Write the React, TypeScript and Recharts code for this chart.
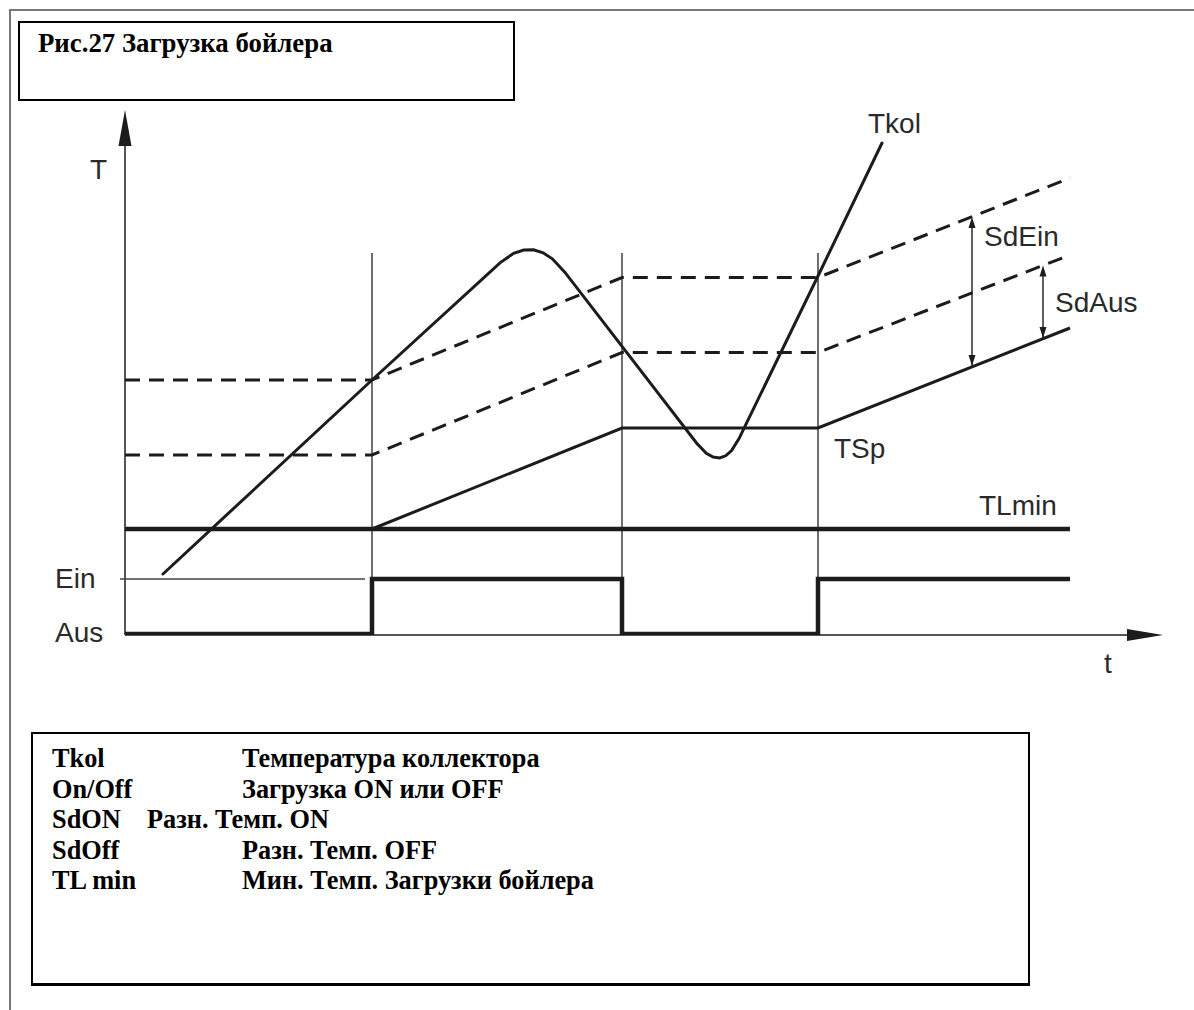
import React from 'react';
import { LineChart, Line, XAxis, YAxis, ReferenceLine, ReferenceDot } from 'recharts';

// ---- data (abstract time / temperature units) ----
const switchTimes = [24.7, 49.7, 69.3];
const lineTop = 76.4;

const tkolT = [3.8, 24.7, 37.5, 38.86, 39.87, 40.85, 41.82, 42.76, 44.0, 57.17, 58.13, 58.81, 59.46, 60.07, 60.66, 61.39, 69.3, 75.7];
const tkolV = [12.2, 51, 74.44, 76.34, 77.0, 77.04, 76.43, 75.18, 72.52, 38.36, 36.36, 35.58, 35.4, 35.84, 36.9, 39.24, 71.8, 98.4];

const tspT = [24.7, 49.7, 69.3, 94.5];
const tspV = [21.2, 41.4, 41.4, 61.4];

const sdEinT = [0, 24.7, 49.7, 69.3, 94.5];
const sdEinV = [51, 51, 71.5, 71.5, 91.4];

const sdAusT = [0, 24.7, 49.7, 69.3, 94.5];
const sdAusV = [36, 36, 56.5, 56.5, 76];

const tlMinT = [0, 94.5];
const tlMinV = [21.2, 21.2];

const pumpT = [0, 24.7, 24.7, 49.7, 49.7, 69.3, 69.3, 94.5];
const pumpV = [0.2, 0.2, 11.2, 11.2, 0.2, 0.2, 11.2, 11.2];

const einRefT = [-0.5, 24.0];
const einRefV = [11.2, 11.2];

const yTickValues = [0, 11.2, 93.2];
const yTickLabels = ['Aus', 'Ein', 'T'];
const xTickValues = [98.3];
const xTickLabels = ['t'];

const sdEinArrow = { t: 84.7, from: 53.8, to: 83.6 };
const sdAusArrow = { t: 91.8, from: 59.4, to: 73.9 };

const seriesLabels = [
  { name: 'Tkol', t: 74.3, v: 100.4 },
  { name: 'SdEin', t: 85.9, v: 77.8 },
  { name: 'SdAus', t: 93.0, v: 64.6 },
  { name: 'TSp', t: 70.9, v: 35.4 },
  { name: 'TLmin', t: 85.4, v: 24.0 },
];

const titleText = 'Рис.27 Загрузка бойлера';
const legendKeys = ['Tkol', 'On/Off', 'SdON', 'SdOff', 'TL min'];
const legendTexts = ['Температура коллектора', 'Загрузка ON или OFF', 'Разн. Темп. ON', 'Разн. Темп. OFF', 'Мин. Темп. Загрузки бойлера'];
const legendIndent = [242, 242, 147, 242, 242];

const zip = (ts: number[], vs: number[]) => ts.map((t, i) => ({ t, v: vs[i] }));

const INK = '#1c1c1c';
const SANS = '"Liberation Sans", Arial, sans-serif';
const SERIF = '"Liberation Serif", "Times New Roman", serif';

const arrowShape = (headLen: number, halfW: number, both: boolean, sw: number) => (p: any) => {
  const { x1, y1, x2, y2 } = p;
  const dx = x2 - x1, dy = y2 - y1;
  const len = Math.hypot(dx, dy) || 1;
  const ux = dx / len, uy = dy / len;
  const head = (tx: number, ty: number, ax: number, ay: number) => {
    const bx = tx - ax * headLen, by = ty - ay * headLen;
    return `${tx},${ty} ${bx - ay * halfW},${by + ax * halfW} ${bx + ay * halfW},${by - ax * halfW}`;
  };
  return (
    <g>
      <line x1={x1} y1={y1} x2={x2 - ux * headLen * 0.5} y2={y2 - uy * headLen * 0.5} stroke={INK} strokeWidth={sw} />
      <polygon points={head(x2, y2, ux, uy)} fill={INK} />
      {both && <polygon points={head(x1, y1, -ux, -uy)} fill={INK} />}
    </g>
  );
};

const textShape = (name: string) => (p: any) => (
  <text x={p.cx} y={p.cy} fill="#2a2a2a" fontFamily={SANS} fontSize={28} textAnchor="start">
    {name}
  </text>
);

const YTick = (props: any) => {
  const { y, payload } = props;
  const i = yTickValues.indexOf(payload.value);
  const label = yTickLabels[i] ?? '';
  const x = label === 'T' ? 90 : 55;
  const dy = label === 'T' ? 10 : label === 'Ein' ? 9 : 7;
  return (
    <text x={x} y={y + dy} fill="#2a2a2a" fontFamily={SANS} fontSize={28} textAnchor="start">
      {label}
    </text>
  );
};

const XTick = (props: any) => {
  const { x, y, payload } = props;
  const i = xTickValues.indexOf(payload.value);
  return (
    <text x={x} y={y + 36} fill="#2a2a2a" fontFamily={SANS} fontSize={28} textAnchor="middle">
      {xTickLabels[i] ?? ''}
    </text>
  );
};

export default function App() {
  return (
    <div style={{ position: 'absolute', left: 0, top: 0, width: 1194, height: 1010, background: '#fff', overflow: 'hidden' }}>
      <div style={{ position: 'absolute', left: 9, top: 9, right: -4, bottom: -4, borderLeft: '2px solid #777', borderTop: '2px solid #777' }} />
      <div style={{ position: 'absolute', left: 0, top: 0 }}>
        <LineChart width={1194} height={1010} margin={{ top: 110, right: 29, bottom: 335, left: 20 }}>
          <XAxis
            type="number"
            dataKey="t"
            domain={[-2, 104]}
            allowDataOverflow
            ticks={xTickValues}
            tick={<XTick />}
            axisLine={false}
            tickLine={false}
            tickSize={0}
            height={40}
          />
          <YAxis
            type="number"
            dataKey="v"
            domain={[0, 105]}
            allowDataOverflow
            ticks={yTickValues}
            tick={<YTick />}
            axisLine={false}
            tickLine={false}
            width={85}
            interval={0}
          />
          {switchTimes.map((t) => (
            <ReferenceLine key={'sw' + t} segment={[{ x: t, y: 0 }, { x: t, y: lineTop }]} stroke="#333" strokeWidth={1.4} ifOverflow="visible" />
          ))}
          <ReferenceLine segment={[{ x: 0, y: 0 }, { x: 0, y: 105 }]} ifOverflow="visible" shape={arrowShape(36, 6.5, false, 1.5)} />
          <ReferenceLine segment={[{ x: 0, y: 0 }, { x: 103.8, y: 0 }]} ifOverflow="visible" shape={arrowShape(36, 6, false, 1.5)} />
          <Line data={zip(einRefT, einRefV)} dataKey="v" stroke="#444" strokeWidth={1.3} dot={false} activeDot={false} isAnimationActive={false} />
          <Line data={zip(sdEinT, sdEinV)} dataKey="v" stroke={INK} strokeWidth={3} strokeDasharray="15 9" dot={false} activeDot={false} isAnimationActive={false} />
          <Line data={zip(sdAusT, sdAusV)} dataKey="v" stroke={INK} strokeWidth={3} strokeDasharray="15 9" dot={false} activeDot={false} isAnimationActive={false} />
          <Line data={zip(tlMinT, tlMinV)} dataKey="v" stroke={INK} strokeWidth={4.5} dot={false} activeDot={false} isAnimationActive={false} />
          <Line data={zip(tspT, tspV)} dataKey="v" stroke={INK} strokeWidth={3} dot={false} activeDot={false} isAnimationActive={false} />
          <Line data={zip(pumpT, pumpV)} dataKey="v" stroke={INK} strokeWidth={4.5} strokeLinejoin="miter" dot={false} activeDot={false} isAnimationActive={false} />
          <Line data={zip(tkolT, tkolV)} dataKey="v" stroke={INK} strokeWidth={3} strokeLinecap="round" dot={false} activeDot={false} isAnimationActive={false} />
          <ReferenceLine segment={[{ x: sdEinArrow.t, y: sdEinArrow.from }, { x: sdEinArrow.t, y: sdEinArrow.to }]} ifOverflow="visible" shape={arrowShape(11, 3.5, true, 1.4)} />
          <ReferenceLine segment={[{ x: sdAusArrow.t, y: sdAusArrow.from }, { x: sdAusArrow.t, y: sdAusArrow.to }]} ifOverflow="visible" shape={arrowShape(11, 3.5, true, 1.4)} />
          {seriesLabels.map((l) => (
            <ReferenceDot key={l.name} x={l.t} y={l.v} r={0} ifOverflow="visible" shape={textShape(l.name)} />
          ))}
        </LineChart>
      </div>
      <div style={{ position: 'absolute', left: 18, top: 21, width: 493, height: 76, border: '2px solid #000' }} />
      <div style={{ position: 'absolute', left: 38, top: 30, lineHeight: '26px', fontFamily: SERIF, fontWeight: 'bold', fontSize: 26.8, color: '#000', whiteSpace: 'nowrap' }}>
        {titleText}
      </div>
      <div style={{ position: 'absolute', left: 31, top: 732, width: 995, height: 249, border: '2px solid #000', borderBottomWidth: 3 }} />
      {legendKeys.map((k, i) => (
        <React.Fragment key={k}>
          <div style={{ position: 'absolute', left: 52, top: 744 + i * 30.5, lineHeight: '30px', fontFamily: SERIF, fontWeight: 'bold', fontSize: 26.3, color: '#000', whiteSpace: 'nowrap' }}>{k}</div>
          <div style={{ position: 'absolute', left: legendIndent[i], top: 744 + i * 30.5, lineHeight: '30px', fontFamily: SERIF, fontWeight: 'bold', fontSize: 26.3, color: '#000', whiteSpace: 'nowrap' }}>{legendTexts[i]}</div>
        </React.Fragment>
      ))}
    </div>
  );
}
